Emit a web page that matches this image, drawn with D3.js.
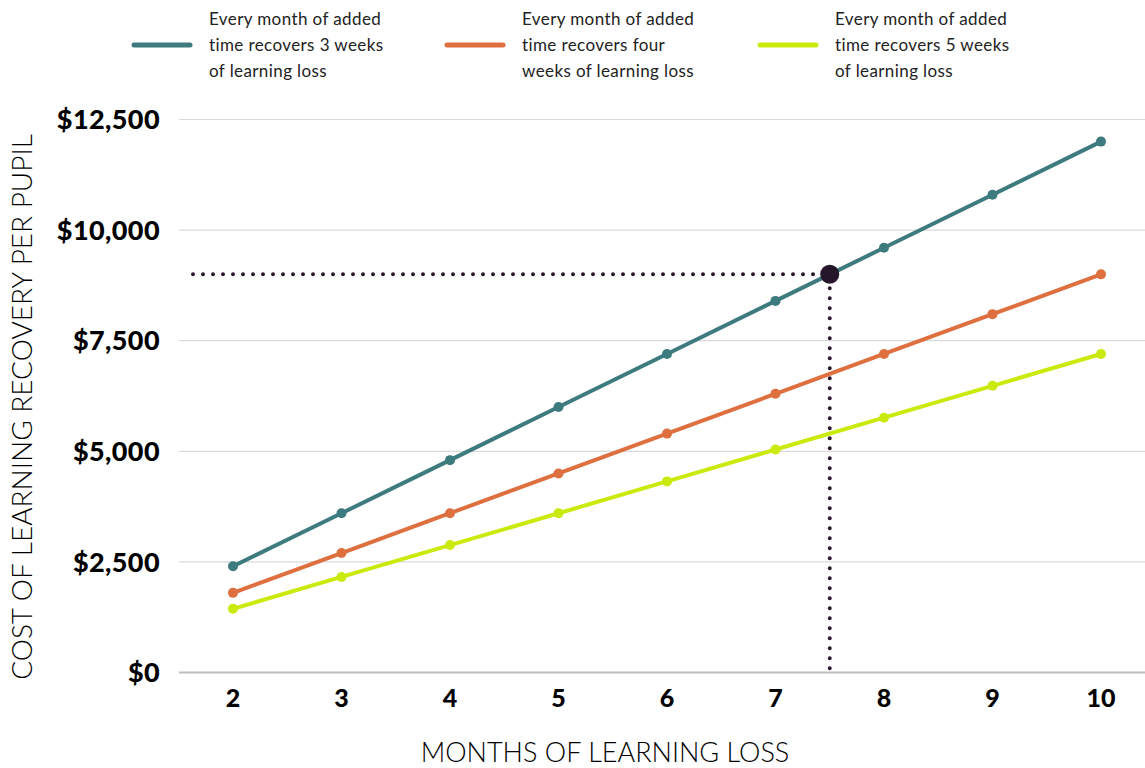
<!DOCTYPE html>
<html>
<head>
<meta charset="utf-8">
<script src="https://cdn.jsdelivr.net/npm/d3@7"></script>
<style>
  body { margin: 0; background: #fff; }
  svg { display: block; }
</style>
</head>
<body>
<script>
// months of learning loss on the x axis
var months = [2, 3, 4, 5, 6, 7, 8, 9, 10];
// cost per pupil for each recovery rate
var threeWeeks = [2400, 3600, 4800, 6000, 7200, 8400, 9600, 10800, 12000];
var fourWeeks = [1800, 2700, 3600, 4500, 5400, 6300, 7200, 8100, 9000];
var fiveWeeks = [1440, 2160, 2880, 3600, 4320, 5040, 5760, 6480, 7200];
var seriesNames = [
  ['Every month of added', 'time recovers 3 weeks', 'of learning loss'],
  ['Every month of added', 'time recovers four', 'weeks of learning loss'],
  ['Every month of added', 'time recovers 5 weeks', 'of learning loss']
];
var yTicks = [0, 2500, 5000, 7500, 10000, 12500];
// highlighted point
var highlight = { month: 7.5, cost: 9000 };

var colors = ['#3e7b7f', '#de6f3f', '#c9ea0c'];
var width = 1145;
var height = 768;

var svg = d3.select('body').append('svg')
  .attr('width', width)
  .attr('height', height);

var x = d3.scaleLinear().domain([2, 10]).range([233, 1101]);
var y = d3.scaleLinear().domain([0, 12500]).range([672.5, 119.5]);

// gridlines
svg.append('g').selectAll('line')
  .data(yTicks)
  .enter().append('line')
  .attr('x1', 179)
  .attr('x2', 1145)
  .attr('y1', function(d) { return y(d); })
  .attr('y2', function(d) { return y(d); })
  .attr('stroke', function(d) { return d === 0 ? '#bdbdbd' : '#d9d9d9'; })
  .attr('stroke-width', function(d) { return d === 0 ? 2 : 1.2; });

// y tick labels
var fmt = d3.format(',');
svg.append('g').selectAll('text')
  .data(yTicks)
  .enter().append('text')
  .attr('x', 160)
  .attr('y', function(d) { return y(d); })
  .attr('dy', '0.36em')
  .attr('text-anchor', 'end')
  .style('font-family', 'Lato, sans-serif')
  .style('font-weight', 900)
  .style('font-size', '27px')
  .style('letter-spacing', '0.4px')
  .style('fill', '#000')
  .text(function(d) { return '$' + fmt(d); });

// x tick labels
svg.append('g').selectAll('text')
  .data(months)
  .enter().append('text')
  .attr('x', function(d) { return x(d); })
  .attr('y', 698)
  .attr('dy', '0.36em')
  .attr('text-anchor', 'middle')
  .style('font-family', 'Lato, sans-serif')
  .style('font-weight', 900)
  .style('font-size', '25px')
  .style('fill', '#000')
  .text(function(d) { return d; });

// axis titles
svg.append('text')
  .attr('x', 605)
  .attr('y', 752)
  .attr('dy', '0.36em')
  .attr('text-anchor', 'middle')
  .style('font-family', 'Lato, sans-serif')
  .style('font-weight', 300)
  .style('font-size', '27px')
  .style('fill', '#000')
  .text('MONTHS OF LEARNING LOSS');

svg.append('text')
  .attr('transform', 'translate(22,407) rotate(-90)')
  .attr('dy', '0.36em')
  .attr('text-anchor', 'middle')
  .style('font-family', 'Lato, sans-serif')
  .style('font-weight', 300)
  .style('font-size', '28px')
  .style('fill', '#000')
  .text('COST OF LEARNING RECOVERY PER PUPIL');

// dotted guides to the highlighted point
var guide = svg.append('g')
  .attr('stroke', '#2a1a2c')
  .attr('stroke-width', 4)
  .attr('stroke-linecap', 'round')
  .attr('stroke-dasharray', '0,10');
guide.append('line')
  .attr('x1', 193).attr('x2', x(highlight.month) - 12)
  .attr('y1', y(highlight.cost)).attr('y2', y(highlight.cost));
guide.append('line')
  .attr('x1', x(highlight.month)).attr('x2', x(highlight.month))
  .attr('y1', y(highlight.cost) + 14).attr('y2', y(0) - 4);

// series lines and dots
var allSeries = [threeWeeks, fourWeeks, fiveWeeks];
var line = d3.line()
  .x(function(d, i) { return x(months[i]); })
  .y(function(d) { return y(d); });

allSeries.slice().reverse().forEach(function(vals, k) {
  var idx = allSeries.length - 1 - k;
  svg.append('path')
    .datum(vals)
    .attr('d', line)
    .attr('fill', 'none')
    .attr('stroke', colors[idx])
    .attr('stroke-width', 4);
  svg.append('g').selectAll('circle')
    .data(vals)
    .enter().append('circle')
    .attr('cx', function(d, i) { return x(months[i]); })
    .attr('cy', function(d) { return y(d); })
    .attr('r', 5)
    .attr('fill', colors[idx]);
});

// highlighted point
svg.append('circle')
  .attr('cx', x(highlight.month))
  .attr('cy', y(highlight.cost))
  .attr('r', 9.5)
  .attr('fill', '#25162a');

// legend
var legendX = [134, 447, 760];
var legend = svg.append('g').selectAll('g')
  .data(seriesNames)
  .enter().append('g')
  .attr('transform', function(d, i) { return 'translate(' + legendX[i] + ',0)'; });
legend.append('line')
  .attr('x1', 0).attr('x2', 56)
  .attr('y1', 45).attr('y2', 45)
  .attr('stroke', function(d, i) { return colors[i]; })
  .attr('stroke-width', 5)
  .attr('stroke-linecap', 'round');
legend.each(function(lines) {
  var t = d3.select(this).append('text')
    .style('font-family', 'Lato, sans-serif')
    .style('font-size', '17px')
    .style('letter-spacing', '0.4px')
    .style('fill', '#222');
  lines.forEach(function(s, j) {
    t.append('tspan')
      .attr('x', 75)
      .attr('y', 19 + j * 26)
      .attr('dy', '0.36em')
      .text(s);
  });
});
</script>
</body>
</html>
